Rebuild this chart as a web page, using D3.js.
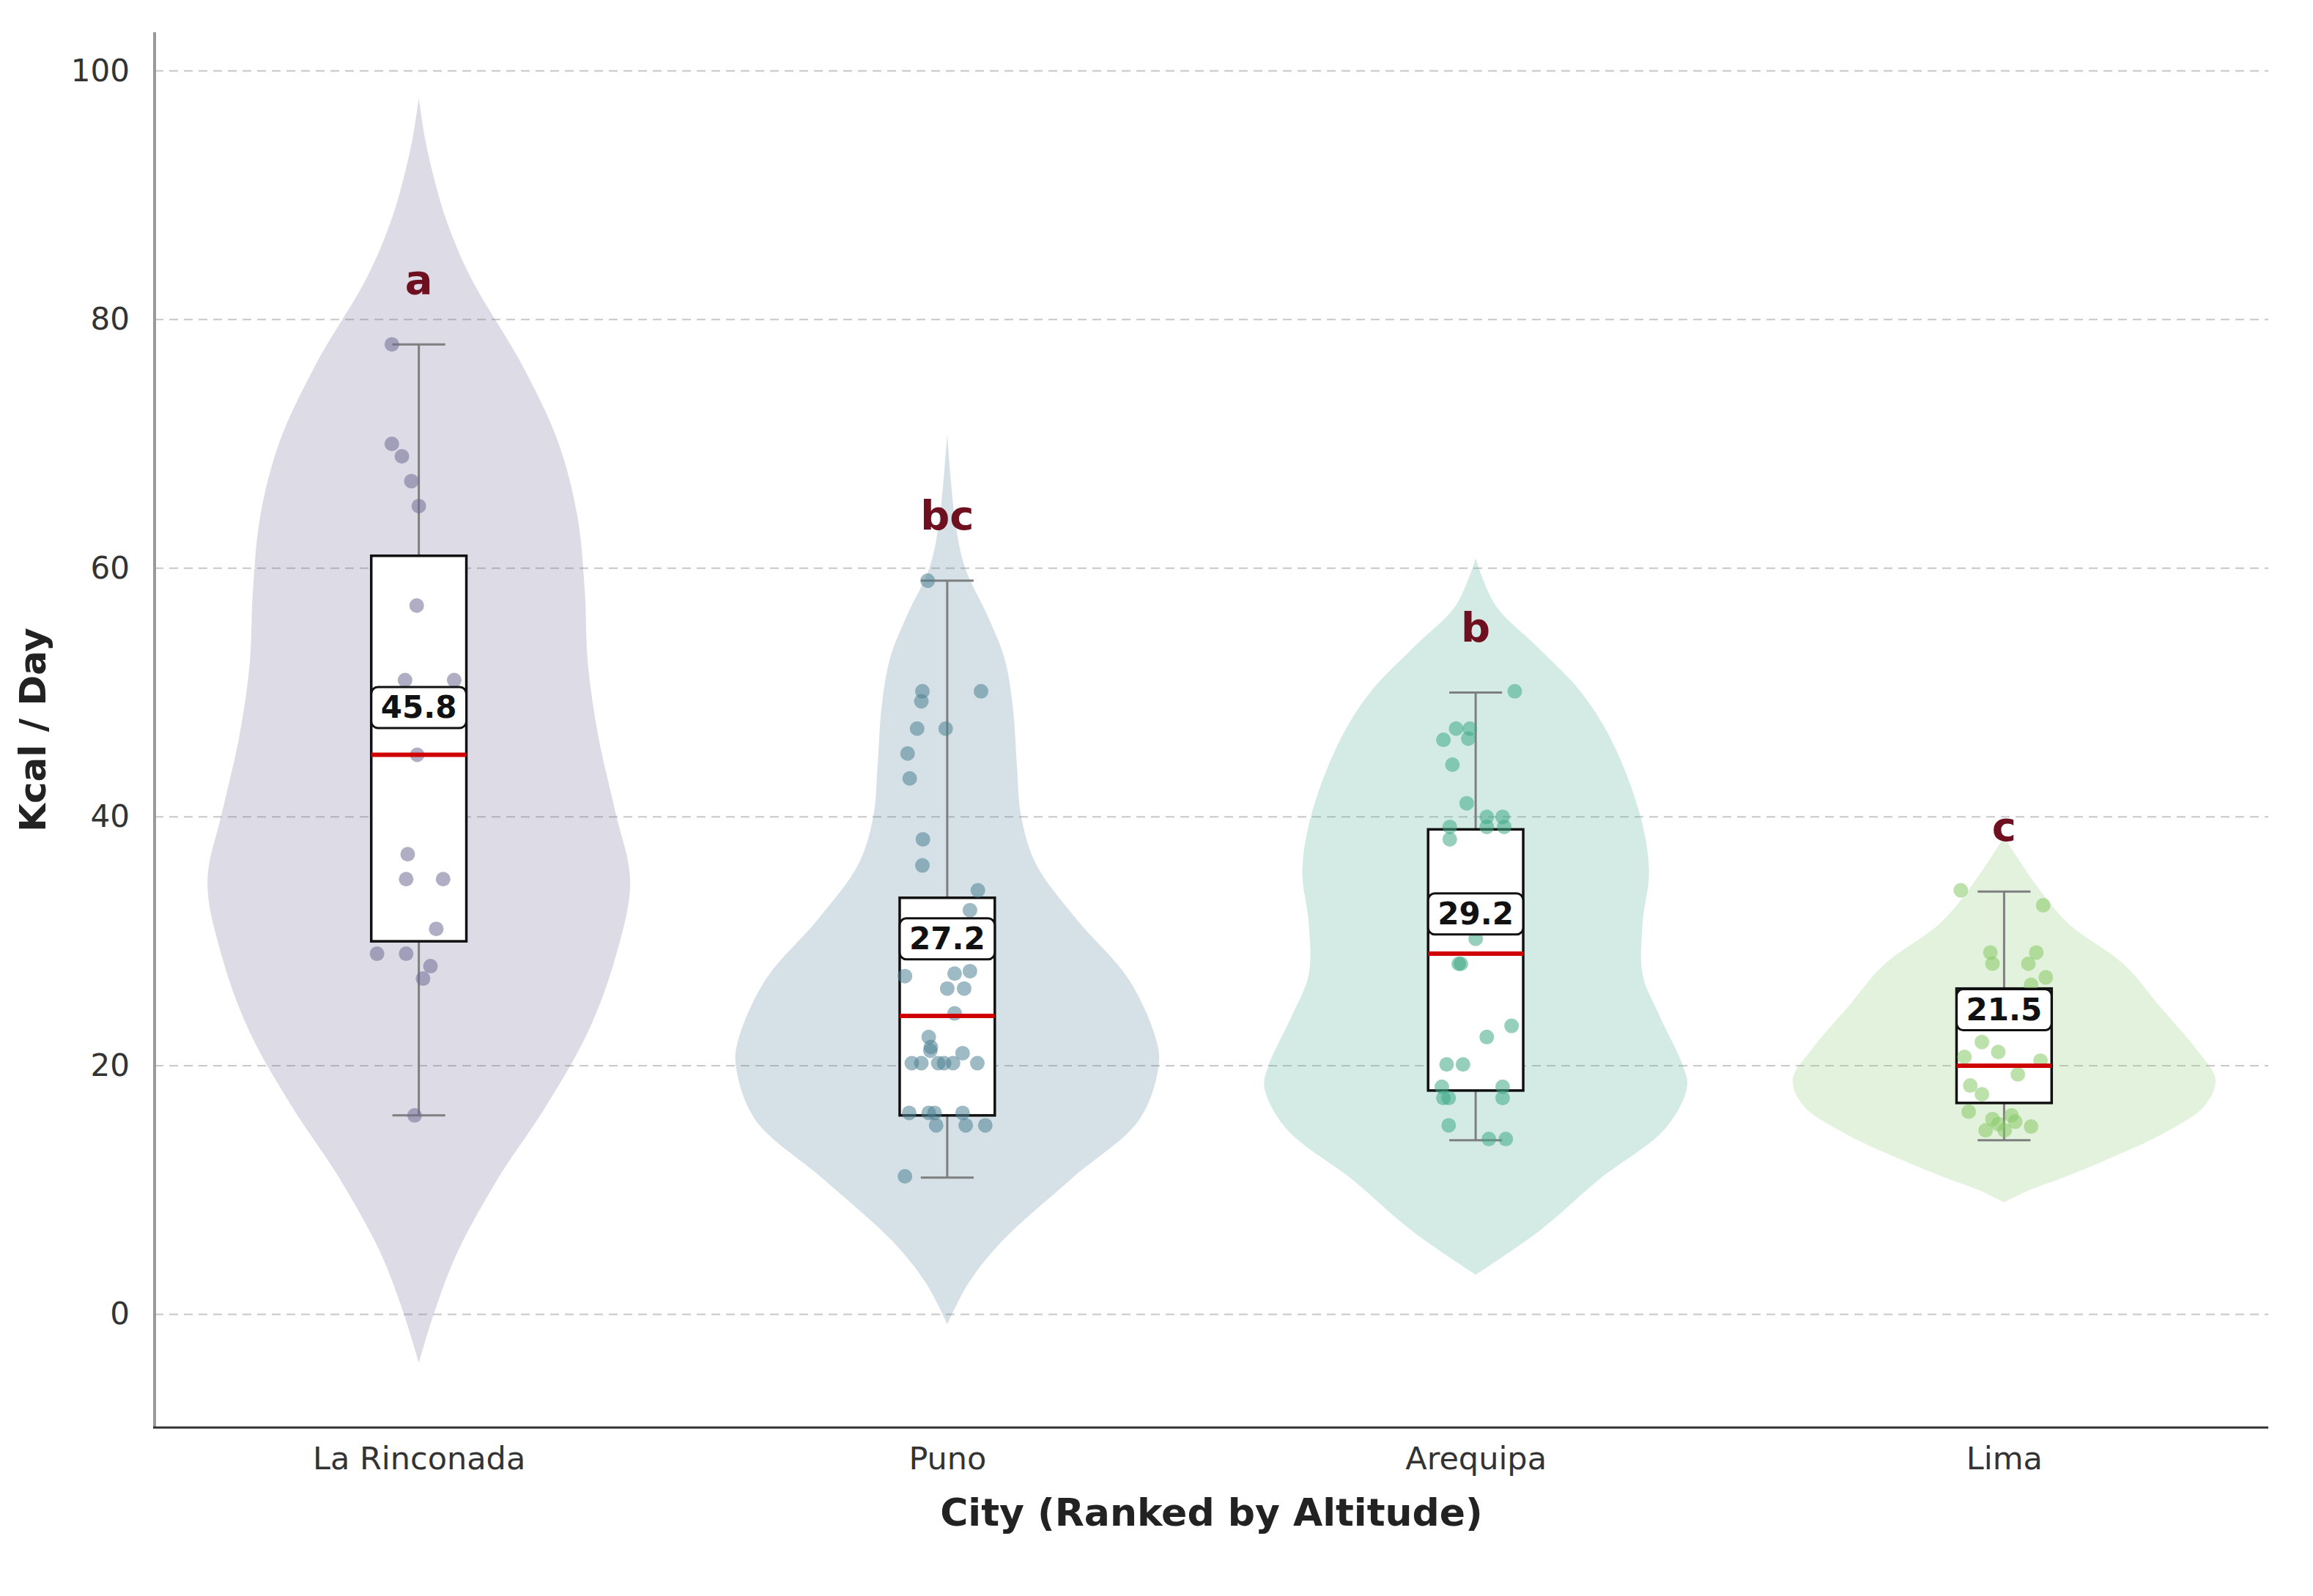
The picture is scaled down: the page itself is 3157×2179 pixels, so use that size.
<!DOCTYPE html>
<html>
<head>
<meta charset="utf-8">
<script src="https://cdn.jsdelivr.net/npm/d3@7"></script>
<style>
  html, body { margin: 0; padding: 0; background: #ffffff; }
  svg { display: block; font-family: "DejaVu Sans", sans-serif; }
</style>
</head>
<body>
<svg id="chart" width="3157" height="2179"></svg>
<script>
// ---------------- DATA ----------------
const cities = ["La Rinconada", "Puno", "Arequipa", "Lima"];
const letters = ["a", "bc", "b", "c"];
const means = [45.8, 27.2, 29.2, 21.5];
const medians = [45, 24, 29, 20];
const q1s = [30, 16, 18, 17];
const q3s = [61, 33.5, 39, 26.2];
const whiskerLo = [16, 11, 14, 14];
const whiskerHi = [78, 59, 50, 34];
const yTicks = [0, 20, 40, 60, 80, 100];

// violin outlines: [kcal value, relative half-width (1 = widest)]
const profileRinconada = [[97.8,0],[94.5,0.03],[91.5,0.07],[88,0.13],[83.4,0.245],[76.3,0.49],[70.1,0.66],[64.2,0.75],[58.2,0.785],[52.3,0.8],[46.4,0.85],[40.4,0.93],[34.8,1],[28.7,0.93],[22.7,0.8],[16.7,0.6],[10.8,0.37],[4.9,0.18],[0,0.07],[-3.9,0]];
const profilePuno = [[70.8,0],[63.5,0.04],[60,0.085],[56.2,0.19],[52.8,0.27],[48.9,0.31],[44,0.33],[40,0.35],[36.2,0.42],[31.8,0.61],[26.9,0.86],[22,0.99],[20,1],[15.7,0.91],[10.8,0.58],[5.9,0.26],[2.5,0.1],[-0.8,0]];
const profileArequipa = [[60.8,0],[57,0.094],[53.7,0.29],[50,0.5],[45.9,0.65],[40,0.78],[35.6,0.82],[31.5,0.79],[27.3,0.79],[24,0.87],[20,0.98],[18.3,1],[15,0.9],[10.8,0.58],[6.7,0.3],[3.2,0]];
const profileLima = [[38.4,0],[34.8,0.14],[31.5,0.3],[28.1,0.57],[24.7,0.74],[21.3,0.91],[18.9,1],[16.8,0.95],[14.6,0.76],[12.4,0.48],[11,0.28],[10,0.12],[9,0]];

// observations: [kcal value, horizontal jitter as fraction of category spacing]
const pointsRinconada = [[78,-0.051],[70,-0.051],[69,-0.032],[67,-0.014],[65,0],[57,-0.004],[51,-0.026],[51,0.067],[45,-0.003],[37,-0.021],[35,-0.024],[35,0.046],[31,0.033],[29,-0.079],[29,-0.024],[28,0.022],[27,0.008],[16,-0.008]];
const pointsPuno = [[59,-0.037],[50.1,0.064],[50.1,-0.047],[49.3,-0.049],[47.1,-0.057],[47.1,-0.003],[45.1,-0.075],[43.1,-0.071],[38.2,-0.046],[36.1,-0.047],[34.1,0.058],[32.5,0.043],[27.2,-0.08],[27.4,0.014],[26.2,0],[26.2,0.032],[27.6,0.043],[24.2,0.014],[22.3,-0.035],[21.5,-0.031],[20.2,-0.067],[20.2,-0.049],[21.2,-0.032],[20.2,-0.017],[20.2,-0.006],[20.2,0.011],[21,0.029],[20.2,0.057],[16.2,-0.072],[16.2,-0.035],[16.2,-0.024],[16.2,0.029],[15.2,-0.021],[15.2,0.035],[15.2,0.072],[11.1,-0.08]];
const pointsArequipa = [[50.1,0.074],[47.1,-0.037],[47.1,-0.011],[46.2,-0.061],[46.3,-0.014],[44.2,-0.044],[41.1,-0.017],[40,0.021],[40,0.051],[39.2,0.021],[39.2,0.054],[39.2,-0.049],[38.2,-0.049],[30.2,0],[28.2,-0.032],[28.2,-0.028],[23.2,0.068],[22.3,0.021],[20.1,-0.055],[20.1,-0.024],[18.3,-0.064],[18.3,0.051],[17.4,-0.061],[17.4,-0.051],[17.4,0.051],[15.2,-0.051],[14.1,0.025],[14.1,0.057]];
const pointsLima = [[34.1,-0.082],[32.9,0.074],[29.1,-0.026],[29.1,0.061],[28.2,-0.022],[28.2,0.046],[27.1,0.079],[26.5,0.051],[21.9,-0.042],[21.1,-0.011],[20.4,0.069],[20.7,-0.075],[19.3,0.026],[18.4,-0.064],[17.7,-0.042],[16.3,-0.067],[15.7,-0.022],[15.5,0.021],[15.1,0.051],[14.8,-0.035],[14.8,0.001],[15.3,-0.011],[16,0.014]];

const violinColors = ["#736f9b", "#57879b", "#4faf93", "#8fcb73"];
const pointColors = ["#6f6c94", "#4f8294", "#3fa986", "#86c866"];

const profiles = [profileRinconada, profilePuno, profileArequipa, profileLima];
const pointSets = [pointsRinconada, pointsPuno, pointsArequipa, pointsLima];

// ---------------- LAYOUT ----------------
const W = 3157, H = 2179;
const plot = { left: 211, right: 3096, top: 44, bottom: 1949 };

const svg = d3.select("#chart");
svg.append("rect").attr("width", W).attr("height", H).attr("fill", "#ffffff");

const x = d3.scalePoint().domain(cities).range([plot.left, plot.right]).padding(0.5);
const y = d3.scaleLinear().domain([-9.1, 103.1]).range([plot.bottom, plot.top]);
const step = x.step();
const halfMax = step * 0.4;
const boxHalf = step * 0.09;
const capHalf = step * 0.05;

// grid
const grid = svg.append("g");
grid.selectAll("line").data(yTicks).join("line")
  .attr("x1", plot.left).attr("x2", plot.right)
  .attr("y1", d => y(d)).attr("y2", d => y(d))
  .attr("stroke", "#c8c8c8").attr("stroke-width", 2)
  .attr("stroke-dasharray", "12,8");

// violins
const area = d3.area()
  .curve(d3.curveCatmullRom.alpha(0.5));
cities.forEach((c, i) => {
  const cx = x(c);
  area.y(d => y(d[0]))
      .x0(d => cx - d[1] * halfMax)
      .x1(d => cx + d[1] * halfMax);
  svg.append("path")
    .datum(profiles[i])
    .attr("d", area)
    .attr("fill", violinColors[i])
    .attr("fill-opacity", 0.25)
    .attr("stroke", "none");
});

// whiskers and boxes
const g = svg.append("g");
cities.forEach((c, i) => {
  const cx = x(c);
  const wg = g.append("g").attr("stroke", "#7f7f7f").attr("stroke-width", 3);
  wg.append("line").attr("x1", cx).attr("x2", cx).attr("y1", y(whiskerHi[i])).attr("y2", y(q3s[i]));
  wg.append("line").attr("x1", cx).attr("x2", cx).attr("y1", y(q1s[i])).attr("y2", y(whiskerLo[i]));
  wg.append("line").attr("x1", cx - capHalf).attr("x2", cx + capHalf).attr("y1", y(whiskerHi[i])).attr("y2", y(whiskerHi[i]));
  wg.append("line").attr("x1", cx - capHalf).attr("x2", cx + capHalf).attr("y1", y(whiskerLo[i])).attr("y2", y(whiskerLo[i]));
  g.append("rect")
    .attr("x", cx - boxHalf).attr("width", 2 * boxHalf)
    .attr("y", y(q3s[i])).attr("height", y(q1s[i]) - y(q3s[i]))
    .attr("fill", "#ffffff").attr("stroke", "#111111").attr("stroke-width", 3.5);
});

// points
cities.forEach((c, i) => {
  const cx = x(c);
  svg.append("g").selectAll("circle").data(pointSets[i]).join("circle")
    .attr("cx", d => cx + d[1] * step)
    .attr("cy", d => y(d[0]))
    .attr("r", 10)
    .attr("fill", pointColors[i])
    .attr("fill-opacity", 0.55);
});

// medians
cities.forEach((c, i) => {
  const cx = x(c);
  svg.append("line")
    .attr("x1", cx - boxHalf).attr("x2", cx + boxHalf)
    .attr("y1", y(medians[i])).attr("y2", y(medians[i]))
    .attr("stroke", "#d10000").attr("stroke-width", 6);
});

// mean labels
cities.forEach((c, i) => {
  const cx = x(c);
  const cy = y(means[i] + 3);
  const lg = svg.append("g");
  const t = lg.append("text")
    .attr("x", cx).attr("y", cy)
    .attr("text-anchor", "middle").attr("dominant-baseline", "central")
    .attr("font-size", 42).attr("font-weight", "bold").attr("fill", "#111111")
    .text(means[i].toFixed(1));
  const bb = t.node().getBBox();
  lg.insert("rect", "text")
    .attr("x", cx - bb.width / 2 - 13).attr("width", bb.width + 26)
    .attr("y", cy - 28).attr("height", 56)
    .attr("rx", 9).attr("ry", 9)
    .attr("fill", "#ffffff").attr("stroke", "#111111").attr("stroke-width", 3);
});

// significance letters
cities.forEach((c, i) => {
  svg.append("text")
    .attr("x", x(c)).attr("y", y(whiskerHi[i] + 4.1))
    .attr("text-anchor", "middle")
    .attr("font-size", 56).attr("font-weight", "bold").attr("fill", "#6e1020")
    .text(letters[i]);
});

// axes spines
svg.append("line").attr("x1", plot.left).attr("x2", plot.left)
  .attr("y1", plot.top).attr("y2", plot.bottom)
  .attr("stroke", "#9a9a9a").attr("stroke-width", 4);
svg.append("line").attr("x1", plot.left - 2).attr("x2", plot.right)
  .attr("y1", plot.bottom).attr("y2", plot.bottom)
  .attr("stroke", "#333333").attr("stroke-width", 3);

// y tick labels
const yAxis = d3.axisLeft(y).tickValues(yTicks).tickSize(0).tickPadding(34);
const ya = svg.append("g").attr("transform", `translate(${plot.left},0)`).call(yAxis);
ya.select(".domain").remove();
ya.selectAll("text").attr("font-size", 42).attr("fill", "#333333")
  .attr("font-family", "DejaVu Sans");

// x tick labels
const xAxis = d3.axisBottom(x).tickSize(0).tickPadding(26);
const xa = svg.append("g").attr("transform", `translate(0,${plot.bottom})`).call(xAxis);
xa.select(".domain").remove();
xa.selectAll("text").attr("font-size", 43).attr("fill", "#333333")
  .attr("font-family", "DejaVu Sans");

// axis titles
svg.append("text")
  .attr("x", (plot.left + plot.right) / 2).attr("y", 2083)
  .attr("text-anchor", "middle")
  .attr("font-size", 52).attr("font-weight", "bold").attr("fill", "#222222")
  .text("City (Ranked by Altitude)");
svg.append("text")
  .attr("transform", `translate(62,${(plot.top + plot.bottom) / 2}) rotate(-90)`)
  .attr("text-anchor", "middle")
  .attr("font-size", 50).attr("font-weight", "bold").attr("fill", "#222222")
  .text("Kcal / Day");
</script>
</body>
</html>
